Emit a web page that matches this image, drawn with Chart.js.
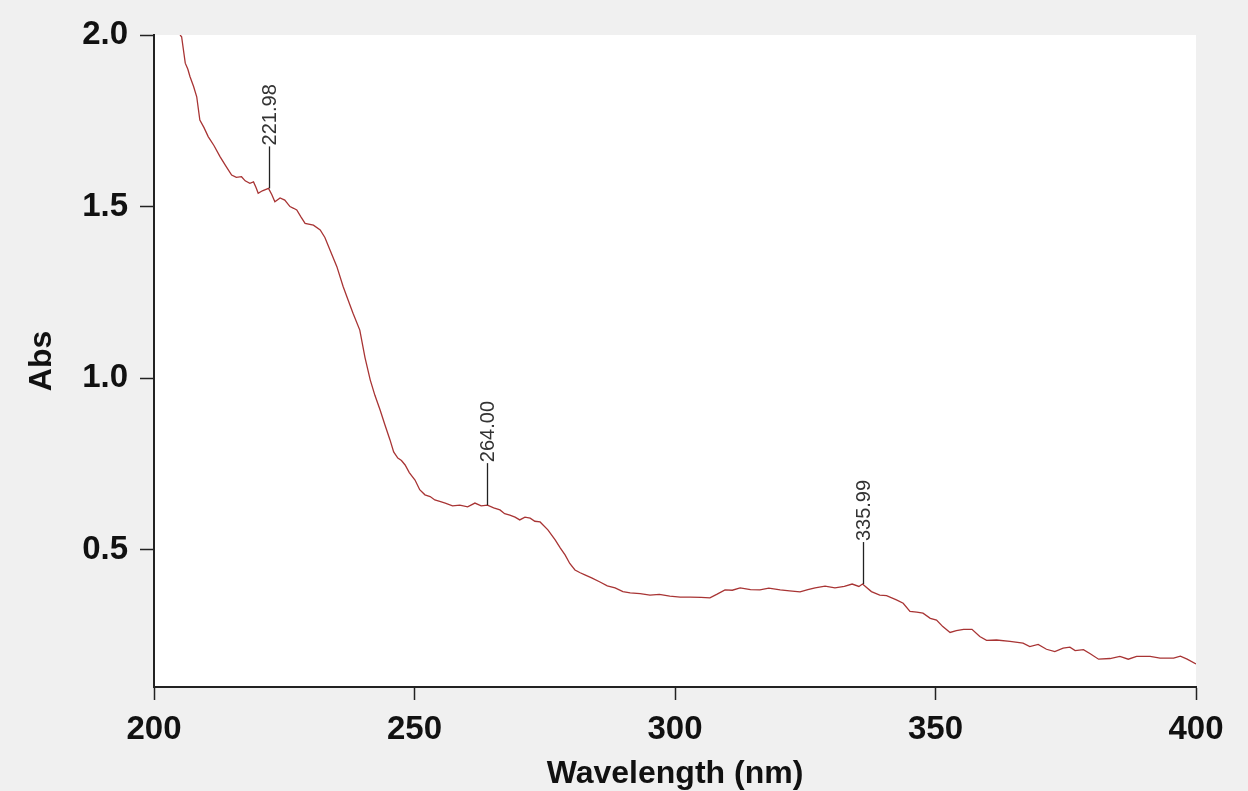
<!DOCTYPE html>
<html>
<head>
<meta charset="utf-8">
<script src="https://cdn.jsdelivr.net/npm/chart.js@4"></script>
<style>
  html, body { margin: 0; padding: 0; background: #f0f0f0; }
  #wrap { width: 1248px; height: 791px; }
</style>
</head>
<body>
<div id="wrap"><canvas id="c" width="1248" height="791"></canvas></div>
<script>
// ---- data ----
const wavelength = [
  205.0, 205.3, 206.0, 206.5, 206.9, 207.6, 208.2, 208.8, 209.6, 210.4,
  211.5, 212.7, 213.8, 214.9, 215.8, 216.8, 217.5, 218.4, 219.1, 219.6,
  220.0, 220.8, 221.98, 222.6, 223.2, 224.2, 225.1, 226.1, 226.8, 227.4,
  228.2, 229.0, 230.6, 231.9, 232.8, 233.8, 235.1, 236.3, 237.2, 238.2,
  239.5, 240.5, 241.5, 242.4, 243.4, 244.3, 245.3, 246.0, 246.8, 247.5,
  248.2, 249.0, 250.1, 251.0, 252.0, 253.0, 253.9, 255.0, 255.9, 257.3,
  258.7, 260.2, 261.6, 262.8, 264.0, 265.2, 266.4, 267.3, 268.3, 269.3,
  270.2, 271.2, 272.2, 273.1, 274.1, 275.6, 277.0, 278.0, 278.9, 279.8,
  280.8, 281.8, 282.7, 284.0, 285.6, 287.0, 288.5, 290.0, 291.4, 293.3,
  295.2, 297.0, 299.0, 301.0, 302.9, 305.0, 306.7, 308.0, 309.6, 311.0,
  312.5, 314.5, 316.3, 318.0, 320.2, 322.0, 324.0, 325.5, 326.9, 328.8,
  330.7, 332.5, 334.0, 335.3, 335.99, 337.7, 339.3, 340.6, 342.5, 343.8,
  345.1, 346.4, 347.6, 349.0, 350.2, 351.4, 352.8, 354.0, 355.4, 357.0,
  358.5, 359.8, 361.7, 364.3, 366.8, 368.1, 369.7, 371.3, 372.9, 374.5,
  375.8, 376.8, 378.4, 379.7, 381.3, 383.5, 385.4, 387.0, 388.6, 391.2,
  393.1, 395.7, 397.0, 398.3, 400.0
];
const absorbance = [
  2.000, 1.995, 1.918, 1.900, 1.879, 1.850, 1.820, 1.752, 1.730, 1.704,
  1.678, 1.645, 1.618, 1.592, 1.585, 1.587, 1.575, 1.568, 1.572, 1.555,
  1.539, 1.546, 1.553, 1.535, 1.514, 1.525, 1.519, 1.500, 1.495, 1.490,
  1.470, 1.451, 1.446, 1.432, 1.410, 1.373, 1.325, 1.267, 1.230, 1.189,
  1.140, 1.060, 0.995, 0.950, 0.907, 0.865, 0.820, 0.785, 0.767, 0.760,
  0.747, 0.725, 0.703, 0.675, 0.660, 0.655, 0.645, 0.640, 0.636, 0.628,
  0.630, 0.625, 0.636, 0.628, 0.630, 0.622, 0.616, 0.605, 0.601, 0.595,
  0.587, 0.595, 0.592, 0.583, 0.581, 0.558, 0.529, 0.505, 0.485, 0.460,
  0.441, 0.433, 0.427, 0.418, 0.406, 0.395, 0.389, 0.378, 0.374, 0.372,
  0.368, 0.370, 0.365, 0.362, 0.362, 0.361, 0.360, 0.370, 0.383, 0.382,
  0.389, 0.384, 0.383, 0.388, 0.383, 0.380, 0.377, 0.384, 0.389, 0.394,
  0.389, 0.393, 0.400, 0.393, 0.400, 0.378, 0.368, 0.366, 0.354, 0.344,
  0.320, 0.318, 0.315, 0.300, 0.295, 0.276, 0.259, 0.264, 0.268, 0.268,
  0.247, 0.236, 0.237, 0.233, 0.228, 0.218, 0.224, 0.210, 0.203, 0.213,
  0.216, 0.206, 0.209, 0.197, 0.181, 0.183, 0.189, 0.181, 0.189, 0.189,
  0.184, 0.184, 0.190, 0.181, 0.167
];
const peakWavelengths = [221.98, 264.00, 335.99];
const peakAbs = [1.553, 0.630, 0.400];
const peakLabels = ["221.98", "264.00", "335.99"];
const xTickValues = [200, 250, 300, 350, 400];
const yTickValues = [0.5, 1.0, 1.5, 2.0];
const xTitle = "Wavelength (nm)";
const yTitle = "Abs";

// ---- chart ----
const FONT = '"Liberation Sans", Arial, sans-serif';
const points = wavelength.map((w, i) => ({ x: w, y: absorbance[i] }));

const plotBg = {
  id: 'plotBg',
  beforeDraw(chart) {
    const { ctx, chartArea: a } = chart;
    ctx.save();
    ctx.fillStyle = '#f0f0f0';
    ctx.fillRect(0, 0, chart.width, chart.height);
    ctx.fillStyle = '#ffffff';
    ctx.fillRect(a.left, a.top, a.right - a.left, a.bottom - a.top);
    ctx.restore();
  }
};

const peakMarks = {
  id: 'peakMarks',
  afterDatasetsDraw(chart) {
    const { ctx, scales: { x, y } } = chart;
    ctx.save();
    peakWavelengths.forEach((w, i) => {
      const px = Math.round(x.getPixelForValue(w)) + 0.5;
      const py = y.getPixelForValue(peakAbs[i]);
      const top = py - 42;
      ctx.strokeStyle = '#222';
      ctx.lineWidth = 1.3;
      ctx.beginPath();
      ctx.moveTo(px, py);
      ctx.lineTo(px, top);
      ctx.stroke();
      ctx.translate(px, top - 1);
      ctx.rotate(-Math.PI / 2);
      ctx.fillStyle = '#333';
      ctx.font = '20px ' + FONT;
      ctx.textAlign = 'left';
      ctx.textBaseline = 'middle';
      ctx.fillText(peakLabels[i], 0, 1);
      ctx.setTransform(1, 0, 0, 1, 0, 0);
    });
    ctx.restore();
  }
};

new Chart(document.getElementById('c'), {
  type: 'line',
  data: {
    datasets: [{
      data: points,
      borderColor: '#a83434',
      borderWidth: 1.3,
      pointRadius: 0,
      tension: 0,
      fill: false
    }]
  },
  options: {
    responsive: false,
    animation: false,
    layout: { padding: { left: 0, top: 35, right: 52, bottom: 0 } },
    plugins: { legend: { display: false }, tooltip: { enabled: false } },
    scales: {
      x: {
        type: 'linear',
        min: 200,
        max: 400,
        afterBuildTicks(s) { s.ticks = xTickValues.map(v => ({ value: v })); },
        afterFit(s) { s.height = 104; },
        ticks: {
          color: '#111',
          font: { family: FONT, size: 33, weight: 'bold' },
          padding: 10,
          maxRotation: 0,
          autoSkip: false,
          callback: v => String(v)
        },
        grid: { drawOnChartArea: false, drawTicks: true, tickLength: 13, tickColor: '#222', tickWidth: 1.5 },
        border: { display: true, color: '#222', width: 2 },
        title: {
          display: true,
          text: xTitle,
          color: '#111',
          font: { family: FONT, size: 32, weight: 'bold', lineHeight: 1.05 },
          padding: { top: 0, bottom: 0 }
        }
      },
      y: {
        type: 'linear',
        min: 0.1,
        max: 2.0,
        afterBuildTicks(s) { s.ticks = yTickValues.map(v => ({ value: v })); },
        afterFit(s) { s.width = 154; },
        ticks: {
          color: '#111',
          font: { family: FONT, size: 33, weight: 'bold' },
          padding: 12,
          autoSkip: false,
          callback: v => Number(v).toFixed(1)
        },
        grid: { drawOnChartArea: false, drawTicks: true, tickLength: 14, tickColor: '#222', tickWidth: 1.5 },
        border: { display: true, color: '#222', width: 2 },
        title: {
          display: true,
          text: yTitle,
          color: '#111',
          font: { family: FONT, size: 32, weight: 'bold' },
          padding: { top: 23, bottom: 0 }
        }
      }
    }
  },
  plugins: [plotBg, peakMarks]
});
</script>
</body>
</html>
